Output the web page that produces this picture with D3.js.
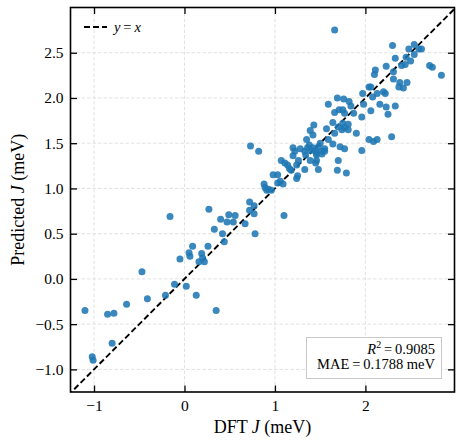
<!DOCTYPE html>
<html>
<head>
<meta charset="utf-8">
<script src="https://cdn.jsdelivr.net/npm/d3@7"></script>
<style>
  html, body { margin: 0; padding: 0; background: #fff; }
  svg { display: block; font-family: "Liberation Serif", "Times New Roman", serif; }
</style>
</head>
<body>
<svg id="chart" width="463" height="446"></svg>
<script>
// ---- Data ----
const dftJ = [
  -1.10,-1.02,-1.01,-0.85,-0.78,-0.80,-0.64,-0.47,-0.41,-0.21,-0.16,-0.11,-0.05,0.02,0.05,0.06,0.09,0.13,0.16,0.19,
  0.20,0.22,0.26,0.27,0.33,0.35,0.40,0.42,0.44,0.47,0.49,0.54,0.56,0.67,0.72,0.72,0.77,0.77,0.78,1.10,
  0.73,0.82,0.88,0.89,0.91,0.93,0.96,0.98,1.03,1.03,1.06,1.09,1.07,1.11,1.14,1.16,1.18,1.20,1.22,1.24,
  1.25,1.33,1.33,1.45,1.48,1.46,1.52,1.55,2.04,2.06,1.97,2.13,2.20,2.22,2.08,1.69,1.76,1.82,1.59,1.84,
  1.98,2.16,2.23,2.33,1.71,1.75,1.66,1.77,1.87,2.06,2.25,1.96,1.64,1.43,1.75,1.81,1.57,1.70,1.74,1.77,
  1.81,1.66,1.42,1.90,2.04,2.09,2.13,2.29,1.35,1.59,1.38,1.64,1.72,1.77,1.20,1.28,1.40,1.45,1.96,1.34,
  1.46,1.52,1.26,1.39,1.46,1.70,1.24,1.69,1.79,1.39,2.30,2.54,2.48,2.59,2.62,2.54,2.45,2.33,2.50,2.40,
  2.44,2.71,2.74,2.84,2.23,2.11,2.10,2.31,2.31,2.38,2.46,2.37,2.42,1.66,1.42,1.48,1.55,1.36,1.50
];
const predictedJ = [
  -0.35,-0.86,-0.90,-0.39,-0.38,-0.71,-0.28,0.08,-0.22,-0.18,0.69,-0.06,0.22,-0.08,0.29,0.25,0.36,-0.18,0.19,0.28,
  0.23,0.19,0.36,0.77,0.55,-0.35,0.66,0.50,0.41,0.63,0.71,0.63,0.70,0.61,0.85,0.76,0.81,0.72,0.50,0.70,
  1.47,1.41,1.05,1.01,0.98,0.99,0.98,1.15,1.15,1.06,1.08,1.05,1.31,1.28,1.26,1.22,1.20,1.36,1.41,1.11,
  1.14,1.21,1.41,1.28,1.21,1.39,1.41,1.41,2.12,2.12,2.05,2.05,2.07,2.05,2.01,2.00,1.99,1.96,1.93,1.91,
  1.93,1.93,1.90,1.91,1.87,1.87,1.84,1.83,1.83,1.86,1.82,1.79,1.73,1.70,1.72,1.71,1.66,1.68,1.65,1.67,
  1.65,1.61,1.59,1.61,1.54,1.52,1.54,1.57,1.54,1.54,1.48,1.49,1.46,1.44,1.45,1.44,1.42,1.42,1.42,1.37,
  1.37,1.38,1.31,1.31,1.31,1.31,1.26,1.20,1.17,1.64,2.58,2.59,2.54,2.54,2.54,2.48,2.45,2.44,2.41,2.36,
  2.37,2.36,2.34,2.25,2.35,2.31,2.26,2.29,2.21,2.17,2.17,2.12,2.11,2.75,1.45,1.46,1.44,1.45,1.50
];
const xTicks = [-1, 0, 1, 2];
const yTicks = [-1.0, -0.5, 0.0, 0.5, 1.0, 1.5, 2.0, 2.5];
const xDomain = [-1.26, 2.985];
const yDomain = [-1.25, 3.0];
const r2Text = "0.9085";
const maeText = "0.1788";

// ---- Layout ----
const FONT = "Liberation Serif";
const svg = d3.select("#chart");
const L = 70.5, R = 454.5, T = 7.5, B = 392;
const x = d3.scaleLinear().domain(xDomain).range([L, R]);
const y = d3.scaleLinear().domain(yDomain).range([B, T]);
const fmtY = v => d3.format(".1f")(v).replace("-", "\u2212");
const fmtX = v => d3.format("d")(v).replace("-", "\u2212");

svg.append("defs").append("clipPath").attr("id", "clip")
  .append("rect").attr("x", L).attr("y", T).attr("width", R - L).attr("height", B - T);

// grid
const grid = svg.append("g").attr("stroke", "#dedede").attr("stroke-width", 0.9).attr("stroke-dasharray", "3.5,2");
grid.selectAll(".gx").data(xTicks).join("line")
  .attr("x1", d => x(d)).attr("x2", d => x(d)).attr("y1", T).attr("y2", B);
grid.selectAll(".gy").data(yTicks).join("line")
  .attr("y1", d => y(d)).attr("y2", d => y(d)).attr("x1", L).attr("x2", R);

// diagonal y = x
const lo = Math.min(xDomain[0], yDomain[0]) - 0.1, hi = Math.max(xDomain[1], yDomain[1]) + 0.1;
svg.append("line").attr("clip-path", "url(#clip)")
  .attr("x1", x(lo)).attr("y1", y(lo)).attr("x2", x(hi)).attr("y2", y(hi))
  .attr("stroke", "#000").attr("stroke-width", 1.9).attr("stroke-dasharray", "6,3");

// points
const pts = dftJ.map((d, i) => ({ x: d, y: predictedJ[i] }));
svg.append("g").attr("clip-path", "url(#clip)")
  .selectAll("circle").data(pts).join("circle")
  .attr("cx", d => x(d.x)).attr("cy", d => y(d.y)).attr("r", 3.5)
  .attr("fill", "#1f77b4").attr("fill-opacity", 0.88);

// axes (ticks inward on all sides)
const tickLen = 6.5;
const axB = svg.append("g").attr("transform", `translate(0,${B})`)
  .call(d3.axisBottom(x).tickValues(xTicks).tickFormat(fmtX).tickSizeInner(-tickLen).tickSizeOuter(0).tickPadding(8));
const axT = svg.append("g").attr("transform", `translate(0,${T})`)
  .call(d3.axisTop(x).tickValues(xTicks).tickFormat("").tickSizeInner(-tickLen).tickSizeOuter(0));
const axL = svg.append("g").attr("transform", `translate(${L},0)`)
  .call(d3.axisLeft(y).tickValues(yTicks).tickFormat(fmtY).tickSizeInner(-tickLen).tickSizeOuter(0).tickPadding(7));
const axR = svg.append("g").attr("transform", `translate(${R},0)`)
  .call(d3.axisRight(y).tickValues(yTicks).tickFormat("").tickSizeInner(-tickLen).tickSizeOuter(0));
[axB, axT, axL, axR].forEach(a => {
  a.attr("font-family", FONT);
  a.select(".domain").remove();
  a.selectAll(".tick line").attr("stroke", "#000").attr("stroke-width", 1.3);
  a.selectAll(".tick text").attr("font-family", FONT).attr("font-size", 15.5).attr("fill", "#000");
});

// frame
svg.append("rect").attr("x", L).attr("y", T).attr("width", R - L).attr("height", B - T)
  .attr("fill", "none").attr("stroke", "#000").attr("stroke-width", 1.6);

// axis labels
const xl = svg.append("text").attr("x", (L + R) / 2).attr("y", 433).attr("text-anchor", "middle")
  .attr("font-family", FONT).attr("font-size", 18);
xl.append("tspan").text("DFT ");
xl.append("tspan").attr("font-style", "italic").text("J");
xl.append("tspan").text(" (meV)");

const yl = svg.append("text").attr("transform", `translate(24,${(T + B) / 2}) rotate(-90)`)
  .attr("text-anchor", "middle").attr("font-family", FONT).attr("font-size", 18);
yl.append("tspan").text("Predicted ");
yl.append("tspan").attr("font-style", "italic").text("J");
yl.append("tspan").text(" (meV)");

// legend
svg.append("line").attr("x1", 84).attr("x2", 107).attr("y1", 27).attr("y2", 27)
  .attr("stroke", "#000").attr("stroke-width", 1.9).attr("stroke-dasharray", "6,3");
const lg = svg.append("text").attr("x", 114).attr("y", 32).attr("font-family", FONT).attr("font-size", 14.5);
lg.append("tspan").attr("font-style", "italic").text("y");
lg.append("tspan").text("\u2009=\u2009");
lg.append("tspan").attr("font-style", "italic").text("x");

// stats box
svg.append("rect").attr("x", 306.5).attr("y", 337.5).attr("width", 135).attr("height", 41)
  .attr("fill", "#fff").attr("stroke", "#c8c8c8").attr("stroke-width", 1);
const t1 = svg.append("text").attr("x", 435).attr("y", 354).attr("text-anchor", "end")
  .attr("font-family", FONT).attr("font-size", 14.5);
t1.append("tspan").attr("font-style", "italic").text("R");
t1.append("tspan").attr("font-size", 10).attr("dy", -6).text("2");
t1.append("tspan").attr("dy", 6).text("\u2009=\u2009" + r2Text);
const t2 = svg.append("text").attr("x", 435).attr("y", 368.5).attr("text-anchor", "end")
  .attr("font-family", FONT).attr("font-size", 14.5);
t2.append("tspan").text("MAE\u2009=\u2009" + maeText + " meV");
</script>
</body>
</html>
